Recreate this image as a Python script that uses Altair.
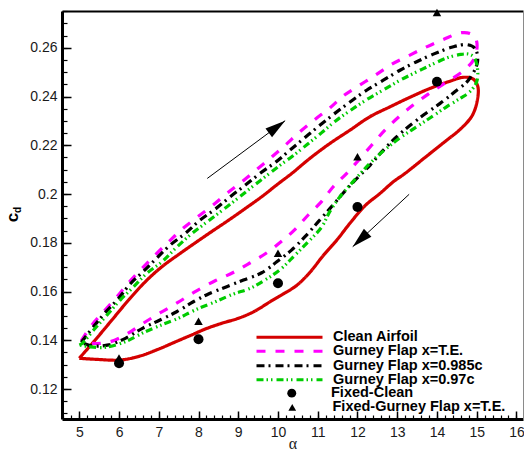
import math
import altair as alt
import pandas as pd

# ---------------- data ----------------
series_names = ["Clean Airfoil", "Gurney Flap x=T.E.", "Gurney Flap x=0.985c", "Gurney Flap x=0.97c"]
series_colors = ["#d40000", "#ff00ff", "#000000", "#00cc00"]
series_dashes = [[1, 0], [9, 10], [8, 4, 2, 5], [7, 3, 1.5, 3, 1.5, 4]]

clean_alpha = [5.00, 5.40, 5.82, 6.24, 6.66, 7.08, 7.50, 7.92, 8.34, 8.76, 9.18, 9.59, 10.02, 10.35,
               10.80, 11.31, 11.81, 12.31, 12.82, 13.32, 13.82, 14.33, 14.66, 14.91, 15.03,
               15.01, 14.88, 14.60, 14.20, 13.70, 13.20, 12.90, 12.57, 12.19, 11.81, 11.48, 11.14,
               10.81, 10.47, 10.13, 9.80, 9.40, 9.00, 8.59, 8.20, 7.80, 7.37, 7.00, 6.52, 6.03, 5.40, 5.00]
clean_cd = [0.1326, 0.1401, 0.1483, 0.1565, 0.1640, 0.1702, 0.1752, 0.1800, 0.1847, 0.1893, 0.1941, 0.1989, 0.2044, 0.2085,
            0.2146, 0.2208, 0.2262, 0.2317, 0.2358, 0.2397, 0.2433, 0.2463, 0.2479, 0.2472, 0.2440,
            0.2380, 0.2320, 0.2268, 0.2215, 0.2150, 0.2085, 0.2050, 0.2003, 0.1952, 0.1880, 0.1811, 0.1748,
            0.1680, 0.1625, 0.1590, 0.1558, 0.1518, 0.1490, 0.1470, 0.1448, 0.1420, 0.1390, 0.1364, 0.1335, 0.1319, 0.1322, 0.1326]

te_alpha = [5.05, 5.32, 5.61, 5.95, 6.24, 6.58, 6.91, 7.25, 7.58, 7.96, 8.34, 8.72, 9.09, 9.47, 9.85, 10.20,
            10.55, 10.93, 11.31, 11.64, 12.06, 12.48, 12.86, 13.32, 13.74, 14.16, 14.62, 14.88, 15.00,
            14.95, 14.70, 14.16, 13.78, 13.40, 13.03, 12.69, 12.36, 12.05, 11.73, 11.39, 11.10, 10.76,
            10.43, 10.09, 9.70, 9.28, 8.86, 8.43, 7.94, 7.47, 7.04, 6.61, 6.20, 5.78, 5.36, 5.05]
te_cd = [0.1398, 0.1463, 0.1517, 0.1579, 0.1636, 0.1695, 0.1750, 0.1804, 0.1855, 0.1904, 0.1951, 0.2003, 0.2050, 0.2101, 0.2153, 0.2203,
         0.2255, 0.2306, 0.2354, 0.2402, 0.2447, 0.2491, 0.2532, 0.2570, 0.2604, 0.2634, 0.2662, 0.2655, 0.2625,
         0.2560, 0.2510, 0.2451, 0.2410, 0.2365, 0.2315, 0.2262, 0.2201, 0.2143, 0.2085, 0.2030, 0.1970, 0.1914,
         0.1855, 0.1806, 0.1757, 0.1716, 0.1677, 0.1645, 0.1602, 0.1554, 0.1513, 0.1470, 0.1426, 0.1394, 0.1387, 0.1398]

g985_alpha = [5.05, 5.36, 5.65, 5.99, 6.28, 6.62, 6.96, 7.29, 7.67, 8.04, 8.42, 8.80, 9.18, 9.55, 9.95, 10.30,
              10.68, 11.06, 11.43, 11.83, 12.23, 12.65, 13.07, 13.49, 13.91, 14.37, 14.75, 14.96, 15.02,
              14.79, 14.45, 14.08, 13.66, 13.28, 12.94, 12.61, 12.32, 11.94, 11.62, 11.31, 11.01, 10.68,
              10.34, 9.97, 9.59, 9.13, 8.71, 8.25, 7.87, 7.45, 7.03, 6.60, 6.16, 5.74, 5.32, 5.05]
g985_cd = [0.1392, 0.1456, 0.1513, 0.1572, 0.1631, 0.1684, 0.1739, 0.1791, 0.1839, 0.1893, 0.1938, 0.1989, 0.2037, 0.2085, 0.2132, 0.2180,
           0.2232, 0.2283, 0.2331, 0.2380, 0.2426, 0.2467, 0.2508, 0.2543, 0.2574, 0.2602, 0.2613, 0.2597, 0.2543,
           0.2467, 0.2420, 0.2372, 0.2324, 0.2276, 0.2228, 0.2173, 0.2119, 0.2057, 0.2000, 0.1941, 0.1886, 0.1825,
           0.1770, 0.1722, 0.1677, 0.1647, 0.1620, 0.1590, 0.1558, 0.1517, 0.1483, 0.1450, 0.1408, 0.1381, 0.1377, 0.1392]

g97_alpha = [5.00, 5.07, 5.36, 5.70, 6.03, 6.37, 6.70, 7.08, 7.42, 7.79, 8.17, 8.55, 8.93, 9.30, 9.68, 10.06,
             10.37, 10.74, 11.10, 11.45, 11.83, 12.22, 12.65, 13.05, 13.45, 13.87, 14.26, 14.60, 14.80, 14.93, 15.02,
             15.00, 14.83, 14.58, 14.24, 13.87, 13.49, 13.11, 12.78, 12.44, 12.15, 11.85, 11.56, 11.31, 11.10,
             10.76, 10.43, 10.07, 9.67, 9.30, 8.88, 8.42, 7.91, 7.49, 7.07, 6.62, 6.16, 5.65, 5.24, 5.00]
g97_cd = [0.1381, 0.1387, 0.1442, 0.1504, 0.1565, 0.1620, 0.1675, 0.1722, 0.1777, 0.1832, 0.1880, 0.1927, 0.1975, 0.2023, 0.2071, 0.2119,
          0.2156, 0.2204, 0.2252, 0.2300, 0.2344, 0.2386, 0.2427, 0.2465, 0.2498, 0.2531, 0.2559, 0.2573, 0.2574, 0.2562, 0.2515,
          0.2461, 0.2420, 0.2392, 0.2358, 0.2317, 0.2276, 0.2235, 0.2194, 0.2146, 0.2098, 0.2044, 0.1989, 0.1930, 0.1865,
          0.1804, 0.1750, 0.1692, 0.1647, 0.1613, 0.1590, 0.1558, 0.1524, 0.1490, 0.1463, 0.1432, 0.1394, 0.1371, 0.1374, 0.1381]

marker_names = ["Fixed-Clean", "Fixed-Gurney Flap x=T.E."]
fixed_alpha = [6, 8, 10, 12, 14]
fixed_clean_cd = [0.1306, 0.1404, 0.1634, 0.1947, 0.2461]
fixed_te_cd = [0.1328, 0.1478, 0.1757, 0.2153, 0.2745]

arrow_alpha_from = [8.22, 13.30]
arrow_cd_from = [0.2064, 0.1999]
arrow_alpha_to = [10.18, 11.88]
arrow_cd_to = [0.2301, 0.1784]

x_ticks = list(range(5, 17))
y_ticks = [0.12, 0.14, 0.16, 0.18, 0.2, 0.22, 0.24, 0.26]

# ---------------- layout ----------------
W, H = 461, 408
X_DOM = [4.565, 16.165]
Y_DOM = [0.1077, 0.2751]
x_minor = [round(4.6 + 0.2 * k, 2) for k in range(58)]
y_minor = [round(0.11 + 0.005 * k, 3) for k in range(34)]
FONT = "Liberation Sans"
LEG_X = 193
LINE_LEG_Y = [320.4, 334.4, 348.8, 362.8]
MARK_LEG_Y = [376.2, 390.5]

kx = W / (X_DOM[1] - X_DOM[0])
ky = H / (Y_DOM[1] - Y_DOM[0])
arr = []
for a0, c0, a1, c1 in zip(arrow_alpha_from, arrow_cd_from, arrow_alpha_to, arrow_cd_to):
    dx = (a1 - a0) * kx
    dy = -(c1 - c0) * ky
    ang = math.degrees(math.atan2(dx, -dy)) % 360
    arr.append({"a0": a0, "c0": c0, "a1": a1, "c1": c1, "angle": ang})
arr_df = pd.DataFrame(arr)

xs = alt.Scale(domain=X_DOM, nice=False, zero=False)
ys = alt.Scale(domain=Y_DOM, nice=False, zero=False)

# main axes (labels, thick frame) – attached to the first curve layer
ax_x1 = alt.Axis(orient="bottom", values=x_ticks, format="d", ticks=False, tickSize=0, domain=True,
                 domainWidth=3, domainColor="black", labelFont=FONT, labelFontSize=14, labelColor="#1a1a1a",
                 labelPadding=6, labelFlush=False, labelOverlap=False, grid=False, zindex=2,
                 title="α", titleFont="Liberation Serif", titleFontSize=16, titleFontWeight="normal",
                 titleColor="#1a1a1a", titleY=29, titleBaseline="alphabetic")
ax_y1 = alt.Axis(orient="left", values=y_ticks, format="~g", ticks=False, tickSize=0, domain=True,
                 domainWidth=3, domainColor="black", labelFont=FONT, labelFontSize=14, labelColor="#1a1a1a",
                 labelPadding=5, labelFlush=False, labelOverlap=False, grid=False, zindex=2,
                 title="c", titleFont=FONT, titleFontSize=17, titleFontWeight="bold", titleColor="black",
                 titleAngle=270, titleX=-45, titleY=206, titleAlign="center", titleBaseline="alphabetic")

series_data = [(clean_alpha, clean_cd), (te_alpha, te_cd), (g985_alpha, g985_cd), (g97_alpha, g97_cd)]
layers = []
for k, (name, (a, c)) in enumerate(zip(series_names, series_data)):
    df = pd.DataFrame({"series": name, "alpha": a, "cd": c, "i": list(range(len(a)))})
    leg = alt.Legend(orient="none", legendX=LEG_X, legendY=LINE_LEG_Y[k], title=None,
                     symbolType="stroke", symbolSize=4356, symbolStrokeWidth=3,
                     labelFont=FONT, labelFontSize=14.5, labelFontWeight="bold",
                     labelColor="black", labelOffset=9, clipHeight=11.9,
                     rowPadding=0, padding=0, labelLimit=300)
    if k == 0:
        xenc = alt.X("alpha:Q", scale=xs, axis=ax_x1)
        yenc = alt.Y("cd:Q", scale=ys, axis=ax_y1)
    else:
        xenc = alt.X("alpha:Q", scale=xs, axis=None)
        yenc = alt.Y("cd:Q", scale=ys, axis=None)
    layers.append(alt.Chart(df).mark_line(strokeWidth=3.2, interpolate="catmull-rom").encode(
        x=xenc, y=yenc,
        color=alt.Color("series:N", scale=alt.Scale(domain=[name], range=[series_colors[k]]), legend=leg),
        strokeDash=alt.StrokeDash("series:N", scale=alt.Scale(domain=[name], range=[series_dashes[k]]),
                                  legend=leg),
        order=alt.Order("i:Q"),
    ))

# markers (+ major inward ticks on the first)
ax_x2 = alt.Axis(orient="bottom", offset=-8, values=x_ticks, tickSize=8, tickWidth=1.5, tickColor="black",
                 domain=False, labels=False, grid=False, title=None)
ax_y2 = alt.Axis(orient="left", offset=-9, values=y_ticks, tickSize=9, tickWidth=1.5, tickColor="black",
                 domain=False, labels=False, grid=False,
                 title="d", titleFont=FONT, titleFontSize=10, titleFontWeight="bold", titleColor="black",
                 titleAngle=270, titleX=-51, titleY=198.5, titleAlign="center", titleBaseline="alphabetic")
marker_shapes = ["circle", "triangle-up"]
marker_sizes = [100, 72]
marker_leg_sizes = [80, 60]
marker_sym_off = [29.5, 30]
marker_lab_off = [32, 33]
for k, (name, cds) in enumerate(zip(marker_names, [fixed_clean_cd, fixed_te_cd])):
    df = pd.DataFrame({"kind": name, "alpha": fixed_alpha, "cd": cds})
    leg = alt.Legend(orient="none", legendX=LEG_X, legendY=MARK_LEG_Y[k], title=None,
                     symbolSize=marker_leg_sizes[k], symbolFillColor="black", symbolStrokeColor="black",
                     symbolOffset=marker_sym_off[k], labelFont=FONT, labelFontSize=14.5,
                     labelFontWeight="bold", labelColor="black", labelOffset=marker_lab_off[k],
                     clipHeight=11.9, rowPadding=0, padding=0, labelLimit=300)
    if k == 0:
        xenc = alt.X("alpha:Q", scale=xs, axis=ax_x2)
        yenc = alt.Y("cd:Q", scale=ys, axis=ax_y2)
    else:
        xenc = alt.X("alpha:Q", scale=xs, axis=None)
        yenc = alt.Y("cd:Q", scale=ys, axis=None)
    layers.append(alt.Chart(df).mark_point(filled=True, color="black", opacity=1,
                                           size=marker_sizes[k]).encode(
        x=xenc, y=yenc,
        shape=alt.Shape("kind:N", scale=alt.Scale(domain=[name], range=[marker_shapes[k]]), legend=leg),
    ))

# arrow shafts + minor inward ticks
ax_x3 = alt.Axis(orient="bottom", offset=-4, values=x_minor, tickSize=4, tickWidth=1.2, tickColor="black",
                 domain=False, labels=False, grid=False, title=None)
ax_y3 = alt.Axis(orient="left", offset=-5, values=y_minor, tickSize=5, tickWidth=1.2, tickColor="black",
                 domain=False, labels=False, grid=False, title=None)
layers.append(alt.Chart(arr_df).mark_rule(color="black", strokeWidth=1).encode(
    x=alt.X("a0:Q", scale=xs, axis=ax_x3),
    y=alt.Y("c0:Q", scale=ys, axis=ax_y3),
    x2="a1:Q",
    y2="c1:Q",
))

# arrow heads + top/right frame
ax_x4 = alt.Axis(orient="top", domain=True, domainColor="black", domainWidth=2, ticks=False,
                 labels=False, grid=False, title=None, zindex=2)
ax_y4 = alt.Axis(orient="right", domain=True, domainColor="#8a8a8a", domainWidth=1, ticks=False,
                 labels=False, grid=False, title=None, zindex=2)
layers.append(alt.Chart(arr_df).mark_point(shape="M0,0L0.46,1.7L-0.46,1.7Z", filled=True, color="black",
                                           opacity=1, size=576).encode(
    x=alt.X("a1:Q", scale=xs, axis=ax_x4),
    y=alt.Y("c1:Q", scale=ys, axis=ax_y4),
    angle=alt.Angle("angle:Q", scale=None),
))

chart = alt.layer(*layers).resolve_scale(
    color="independent", strokeDash="independent", shape="independent"
).resolve_axis(
    x="independent", y="independent"
).properties(
    width=W, height=H,
    autosize=alt.AutoSizeParams(type="none"),
    padding={"left": 62, "top": 11, "right": 1, "bottom": 33},
    background="white",
).configure_view(stroke="transparent")

chart.save("out.html", embed_options={"renderer": "svg", "actions": False})
